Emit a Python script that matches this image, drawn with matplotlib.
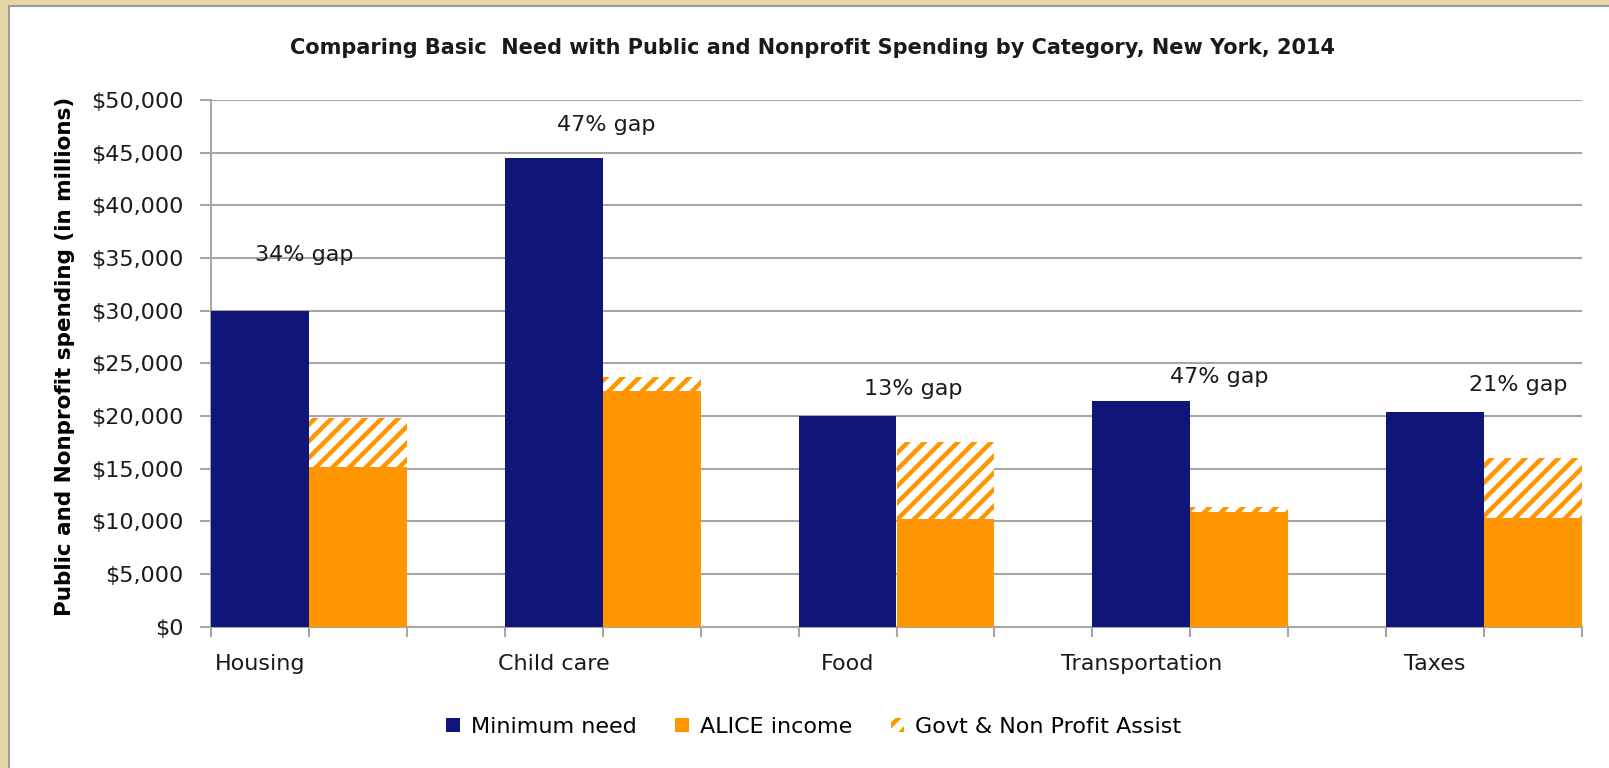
import matplotlib
matplotlib.use("Agg")
import matplotlib.pyplot as plt
from matplotlib.patches import Rectangle
from matplotlib.lines import Line2D
from matplotlib.ticker import FuncFormatter

categories = ["Housing", "Child care", "Food", "Transportation", "Taxes"]
minimum_need = [30000, 44500, 20000, 21450, 20400]
alice_income = [15130, 22380, 10200, 10860, 10350]
govt_assist = [4650, 1360, 7370, 475, 5700]
gap_labels = ["34% gap", "47% gap", "13% gap", "47% gap", "21% gap"]

# where the gap labels sit (slot offset from the group start, height in $)
gap_label_dx = [0.45, 0.54, 0.67, 0.80, 0.85]
gap_label_y = [35300, 47600, 22600, 23700, 22950]

NAVY = "#10157A"
ORANGE = "#FF9600"
GRID = "#A6A6A6"
BEIGE = "#E6D7A6"

plt.rcParams["font.family"] = ["DejaVu Sans"]
plt.rcParams["hatch.linewidth"] = 3.2

W, H = 1609, 768
fig = plt.figure(figsize=(W / 100, H / 100), dpi=100)
fig.patch.set_facecolor("white")

# beige frame on top and left, with a grey shadow line
fig.patches.append(Rectangle((0, 1 - 5 / H), 1, 5 / H, transform=fig.transFigure,
                             facecolor=BEIGE, edgecolor="none", zorder=0))
fig.patches.append(Rectangle((0, 0), 8 / W, 1, transform=fig.transFigure,
                             facecolor=BEIGE, edgecolor="none", zorder=0))
fig.lines.append(Line2D([8.5 / W, 1], [1 - 6 / H, 1 - 6 / H], transform=fig.transFigure,
                        color="#9A9A9A", lw=1.5))
fig.lines.append(Line2D([8.5 / W, 8.5 / W], [0, 1 - 6 / H], transform=fig.transFigure,
                        color="#9A9A9A", lw=1.5))

left, right, top, bottom = 211, 1582, 100, 626.7
ax = fig.add_axes([left / W, 1 - bottom / H, (right - left) / W, (bottom - top) / H])

navy_x = [3 * i for i in range(len(categories))]
orange_x = [3 * i + 1 for i in range(len(categories))]

ax.bar(navy_x, minimum_need, width=1.0, color=NAVY, label="Minimum need", zorder=3)
ax.bar(orange_x, alice_income, width=1.0, color=ORANGE, label="ALICE income", zorder=3)
ax.bar(orange_x, govt_assist, bottom=alice_income, width=1.0, facecolor="white",
       edgecolor=ORANGE, hatch="//", linewidth=0, label="Govt & Non Profit Assist", zorder=3)

for x0, dx, y, txt in zip(navy_x, gap_label_dx, gap_label_y, gap_labels):
    ax.text(x0 + dx, y, txt, ha="center", va="center", fontsize=16, color="#1A1A1A", zorder=4)

ax.set_xlim(-0.5, 3 * len(categories) - 1.5)
ax.set_ylim(0, 50000)
ax.set_yticks(range(0, 50001, 5000))
ax.yaxis.set_major_formatter(FuncFormatter(lambda v, p: f"${v:,.0f}"))
ax.grid(axis="y", color=GRID, linewidth=1.5, zorder=0)

ax.set_xticks([x - 0.5 for x in range(3 * len(categories) - 1)] + [3 * len(categories) - 1.5])
ax.set_xticklabels([])
ax.set_xticks(navy_x, minor=True)
ax.set_xticklabels(categories, minor=True)
ax.tick_params(axis="x", which="major", length=7, width=1.5, color=GRID, direction="out")
ax.tick_params(axis="x", which="minor", length=0, pad=20, labelsize=16, labelcolor="#1A1A1A")
ax.tick_params(axis="y", length=8, width=1.5, color=GRID, pad=12, labelsize=16,
               labelcolor="#1A1A1A")

for s in ["top", "right"]:
    ax.spines[s].set_visible(False)
for s in ["left", "bottom"]:
    ax.spines[s].set_color(GRID)
    ax.spines[s].set_linewidth(1.5)

fig.text(812 / W, 1 - 48 / H,
         "Comparing Basic  Need with Public and Nonprofit Spending by Category, New York, 2014",
         ha="center", va="center", fontsize=15, fontweight="bold", color="#1A1A1A")
fig.text(65 / W, 1 - 356 / H, "Public and Nonprofit spending (in millions)",
         ha="center", va="center", rotation=90, fontsize=15.5, fontweight="bold", color="black")

fig.legend(loc="center", bbox_to_anchor=(814 / W, 1 - 727 / H), ncol=3, frameon=False,
           fontsize=16, handlelength=0.6, handleheight=0.6, handletextpad=0.5,
           columnspacing=1.75)

fig.savefig("out.png", dpi=100)
